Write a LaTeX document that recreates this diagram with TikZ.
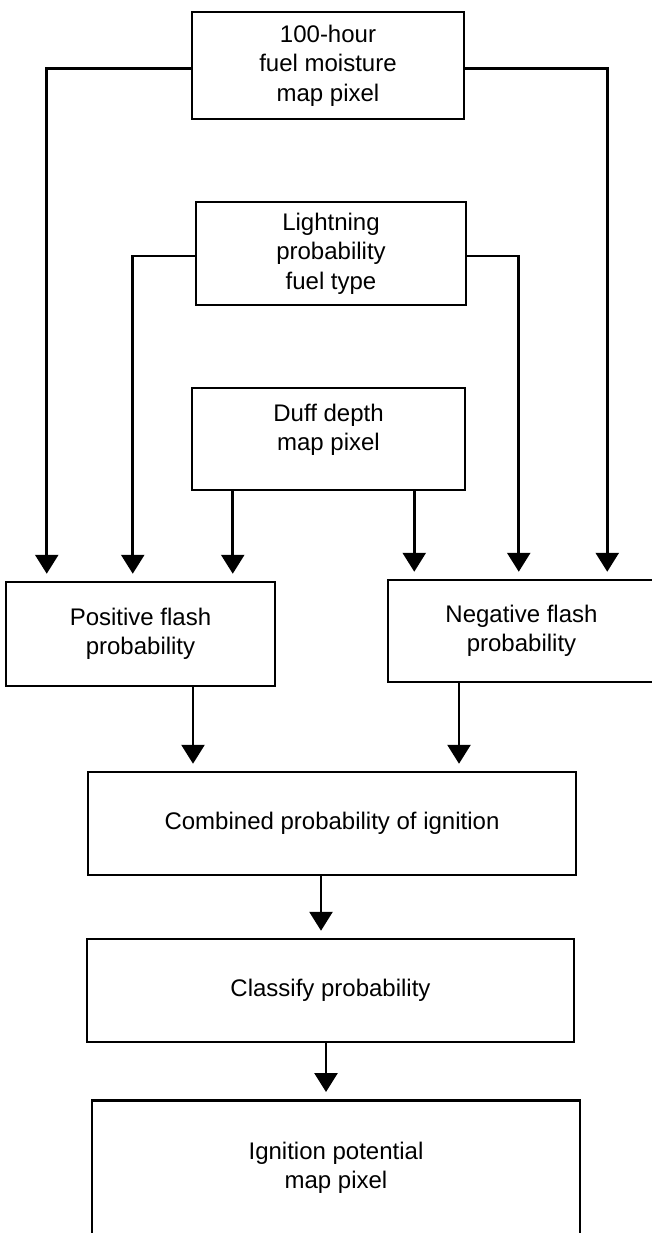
\documentclass[tikz,border=0pt]{standalone}
\usepackage{fontspec}
\setmainfont{Liberation Sans}
\usetikzlibrary{arrows.meta}

\begin{document}
\begin{tikzpicture}[x=1pt, y=-1pt,
  box/.style={draw, line width=2.5pt, align=center, inner sep=0pt,
    font=\fontsize{24}{29.5}\selectfont},
  arr/.style={line width=2.8pt, -{Triangle[length=19pt 0 0, width=23pt 0 0]}, shorten >=7pt}]
\useasboundingbox (0,0) rectangle (652,1233);

% inputs
\node[box, minimum width=272pt, minimum height=107pt] (moist) at (328,65.5) {100-hour\\fuel moisture\\map pixel};
\node[box, minimum width=270pt, minimum height=103pt] (light) at (331,253.5) {Lightning\\probability\\fuel type};
\node[box, minimum width=273pt, minimum height=102pt, text height=46.5pt, text depth=23pt] (duff) at (328.5,439) {Duff depth\\map pixel};

% flash probabilities
\node[box, minimum width=269pt, minimum height=104pt] (posflash) at (140.5,634) {Positive flash\\probability};
\node[box, minimum width=267pt, minimum height=102pt] (negflash) at (521.5,631) {Negative flash\\probability};

% combination and output
\node[box, minimum width=488pt, minimum height=103pt] (comb) at (332,823.5) {Combined probability of ignition};
\node[box, minimum width=487pt, minimum height=103pt] (classify) at (330.5,990.5) {Classify probability};
\node[box, minimum width=488pt, anchor=north, text height=88.5pt, text depth=150pt] (ignit) at (336,1099) {Ignition potential\\map pixel};

\draw[arr] ([yshift=-3pt]moist.west) -| ([xshift=42pt]posflash.north west);
\draw[arr] ([yshift=-3pt]moist.east) -| ([xshift=-49pt]negflash.north east);
\draw[arr] ([yshift=-2.5pt]light.west) -| ([xshift=128pt]posflash.north west);
\draw[arr] ([yshift=-2.5pt]light.east) -| ([xshift=132pt]negflash.north west);

\coordinate (duffl) at ([xshift=42pt]duff.south west);
\coordinate (duffr) at ([xshift=-52pt]duff.south east);
\draw[arr] (duffl) -- (duffl |- posflash.north);
\draw[arr] (duffr) -- (duffr |- negflash.north);

\coordinate (posout) at ([xshift=52.5pt]posflash.south);
\coordinate (negout) at ([xshift=-62.5pt]negflash.south);
\draw[arr] (posout) -- (posout |- comb.north);
\draw[arr] (negout) -- (negout |- comb.north);

\coordinate (combout) at ([xshift=-11pt]comb.south);
\coordinate (classout) at ([xshift=-4.5pt]classify.south);
\draw[arr] (combout) -- (combout |- classify.north);
\draw[arr] (classout) -- (classout |- ignit.north);

\end{tikzpicture}
\end{document}
